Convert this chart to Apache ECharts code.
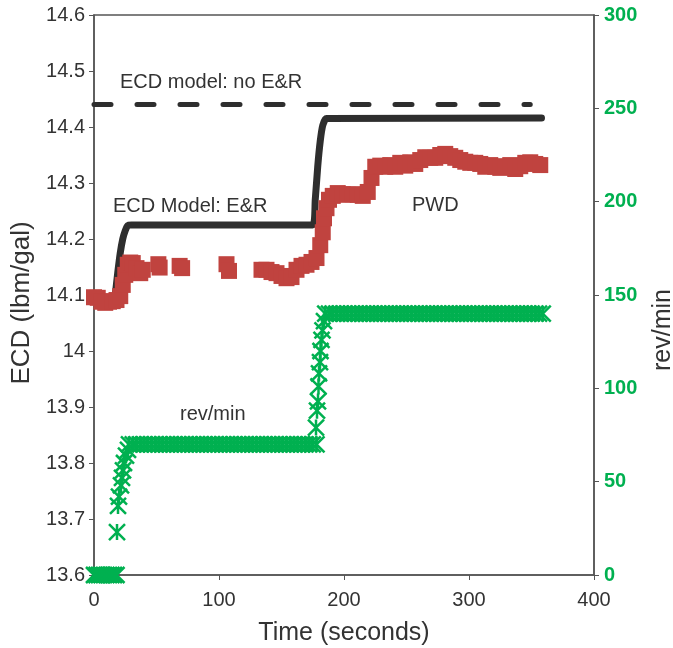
<!DOCTYPE html>
<html>
<head>
<meta charset="utf-8">
<script src="https://cdn.jsdelivr.net/npm/echarts@6/dist/echarts.min.js"></script>
<style>
  html, body { margin: 0; padding: 0; background: #fff; }
  #chart { width: 673px; height: 648px; }
</style>
</head>
<body>
<div id="chart"></div>
<script>
// ECD model without E&R (dashed)
const noErTime = [0, 349]
const noErEcd = [14.44, 14.44]

// ECD model with E&R (solid black)
const modelTime = [17, 19, 21, 23, 25, 27, 30, 175, 177, 179, 181, 183, 186, 358]
const modelEcd = [14.10, 14.14, 14.175, 14.20, 14.215, 14.224, 14.225, 14.225, 14.27, 14.33, 14.375, 14.403, 14.415, 14.416]

// PWD measurements (red squares)
const pwdTime = [0, 3, 6, 9, 12, 15, 18, 21, 23, 25, 27, 29, 31, 34, 37, 39,
  51.5, 52.5, 68.5, 70.5, 106, 108,
  134, 138, 142, 146, 150, 154, 158, 162, 166, 170, 174, 178, 181, 183, 184, 186, 188,
  191, 195, 199, 203, 207, 211, 215, 219, 222, 225, 229, 233, 237, 241, 245, 249, 253,
  257, 261, 265, 269, 273, 277, 281, 285, 289, 293, 297, 301, 305, 309, 313, 317, 321,
  325, 329, 333, 337, 341, 345, 349, 353, 357]
const pwdEcd = [14.096, 14.095, 14.088, 14.086, 14.088, 14.089, 14.091, 14.098, 14.118, 14.136, 14.154, 14.158, 14.157, 14.148, 14.139, 14.145,
  14.155, 14.149, 14.152, 14.148, 14.155, 14.143,
  14.145, 14.145, 14.141, 14.139, 14.134, 14.130, 14.132, 14.145, 14.152, 14.154, 14.159, 14.166, 14.189, 14.212, 14.237, 14.255, 14.270,
  14.277, 14.282, 14.280, 14.279, 14.280, 14.279, 14.277, 14.284, 14.309, 14.329, 14.331, 14.329, 14.332, 14.329, 14.336, 14.331, 14.337,
  14.334, 14.341, 14.346, 14.345, 14.345, 14.350, 14.352, 14.348, 14.345, 14.341, 14.338, 14.336, 14.336, 14.334, 14.329, 14.332, 14.329,
  14.327, 14.330, 14.332, 14.325, 14.330, 14.336, 14.337, 14.334, 14.332]

// rotary speed (green stars, right axis)
const rpmTime = [0, 2, 4, 6, 8, 10, 12, 14, 16, 18,
  18.4, 19.2, 20, 21.6, 22.4, 23.2, 24, 25.6, 27.2,
  28, 31, 34, 37, 40, 43, 46, 49, 52, 55, 58, 61, 64, 67, 70, 73, 76, 79, 82, 85, 88, 91, 94, 97, 100,
  103, 106, 109, 112, 115, 118, 121, 124, 127, 130, 133, 136, 139, 142, 145, 148, 151, 154, 157, 160,
  163, 166, 169, 172, 175, 178,
  177.6, 178.4, 179.2, 179.6, 180, 180.8, 181.2, 182, 182.8, 184,
  185, 188, 191, 194, 197, 200, 203, 206, 209, 212, 215, 218, 221, 224, 227, 230, 233, 236, 239, 242,
  245, 248, 251, 254, 257, 260, 263, 266, 269, 272, 275, 278, 281, 284, 287, 290, 293, 296, 299, 302,
  305, 308, 311, 314, 317, 320, 323, 326, 329, 332, 335, 338, 341, 344, 347, 350, 353, 356, 359]
const rpmValue = [0, 0, 0, 0, 0, 0, 0, 0, 0, 0,
  23, 37, 42, 48, 52, 56, 60, 64, 67,
  70, 70, 70, 70, 70, 70, 70, 70, 70, 70, 70, 70, 70, 70, 70, 70, 70, 70, 70, 70, 70, 70, 70, 70, 70,
  70, 70, 70, 70, 70, 70, 70, 70, 70, 70, 70, 70, 70, 70, 70, 70, 70, 70, 70, 70,
  70, 70, 70, 70, 70, 70,
  79, 88, 93, 101, 108, 114, 120, 126, 131, 136,
  140, 140, 140, 140, 140, 140, 140, 140, 140, 140, 140, 140, 140, 140, 140, 140, 140, 140, 140, 140,
  140, 140, 140, 140, 140, 140, 140, 140, 140, 140, 140, 140, 140, 140, 140, 140, 140, 140, 140, 140,
  140, 140, 140, 140, 140, 140, 140, 140, 140, 140, 140, 140, 140, 140, 140, 140, 140, 140, 140]

const pair = (xs, ys) => xs.map((x, i) => [x, ys[i]])

const FONT = 'Liberation Sans, Arial, sans-serif'
const GREEN = '#00b050'
const RED = '#c0433f'
const DARK = '#2e2e2e'
const STAR = 'path://M0,0L10,10M10,0L0,10M5,0L5,10'

const chart = echarts.init(document.getElementById('chart'))
chart.setOption({
  backgroundColor: '#fff',
  animation: false,
  grid: {
    left: 94,
    right: 79,
    top: 15,
    bottom: 73,
    outerBoundsMode: 'none',
    containLabel: false,
    show: true,
    borderColor: '#555',
    borderWidth: 1.5
  },
  xAxis: {
    type: 'value',
    min: 0,
    max: 400,
    interval: 100,
    name: 'Time (seconds)',
    nameLocation: 'middle',
    nameGap: 46,
    nameTextStyle: { fontSize: 25, color: '#333', fontFamily: FONT },
    axisLine: { lineStyle: { color: '#555', width: 1.5 } },
    axisTick: { length: 5, lineStyle: { color: '#555' } },
    axisLabel: { margin: 15, fontSize: 20, color: '#333', fontFamily: FONT },
    splitLine: { show: false }
  },
  yAxis: [{
    type: 'value',
    min: 13.6,
    max: 14.6,
    interval: 0.1,
    name: 'ECD (lbm/gal)',
    nameLocation: 'middle',
    nameGap: 57,
    // nudge the title a little below the plot centre, as in the original
    nameTextStyle: { fontSize: 26, color: '#333', fontFamily: FONT, padding: [0, 16, 0, 0] },
    axisLine: { show: true, lineStyle: { color: '#555', width: 1.5 } },
    axisTick: { show: true, length: 5, lineStyle: { color: '#555' } },
    axisLabel: { margin: 9, fontSize: 20, color: '#333', fontFamily: FONT },
    splitLine: { show: false }
  }, {
    type: 'value',
    position: 'right',
    min: 0,
    max: 300,
    interval: 50,
    name: 'rev/min',
    nameLocation: 'middle',
    nameGap: 57,
    nameTextStyle: { fontSize: 25, color: '#333', fontFamily: FONT, padding: [0, 70, 0, 0] },
    axisLine: { show: true, lineStyle: { color: '#555', width: 1.5 } },
    axisTick: { show: true, length: 5, lineStyle: { color: '#555' } },
    axisLabel: { margin: 10, fontSize: 20, color: GREEN, fontWeight: 'bold', fontFamily: FONT },
    splitLine: { show: false }
  }],
  series: [{
    name: 'ECD model: no E&R',
    type: 'line',
    data: pair(noErTime, noErEcd),
    showSymbol: false,
    lineStyle: { color: DARK, width: 5, type: [17, 26], cap: 'round' },
    z: 2
  }, {
    name: 'ECD Model: E&R',
    type: 'line',
    data: pair(modelTime, modelEcd),
    showSymbol: false,
    smooth: 0.2,
    lineStyle: { color: DARK, width: 7, cap: 'round', join: 'round' },
    z: 2
  }, {
    name: 'PWD',
    type: 'scatter',
    data: pair(pwdTime, pwdEcd),
    symbol: 'rect',
    symbolSize: 16,
    itemStyle: { color: RED, opacity: 1 },
    z: 3
  }, {
    name: 'rev/min',
    type: 'scatter',
    yAxisIndex: 1,
    data: pair(rpmTime, rpmValue),
    symbol: STAR,
    symbolSize: 16,
    itemStyle: { color: GREEN, borderColor: GREEN, borderWidth: 2.5, opacity: 1 },
    z: 4
  }],
  graphic: [
    { type: 'text', x: 120, y: 82, style: { text: 'ECD model: no E&R', fontSize: 20, fontFamily: FONT, fill: '#333', verticalAlign: 'middle' } },
    { type: 'text', x: 113, y: 206, style: { text: 'ECD Model: E&R', fontSize: 20, fontFamily: FONT, fill: '#333', verticalAlign: 'middle' } },
    { type: 'text', x: 412, y: 205, style: { text: 'PWD', fontSize: 20, fontFamily: FONT, fill: '#333', verticalAlign: 'middle' } },
    { type: 'text', x: 180, y: 414, style: { text: 'rev/min', fontSize: 20, fontFamily: FONT, fill: '#333', verticalAlign: 'middle' } }
  ]
})
</script>
</body>
</html>
